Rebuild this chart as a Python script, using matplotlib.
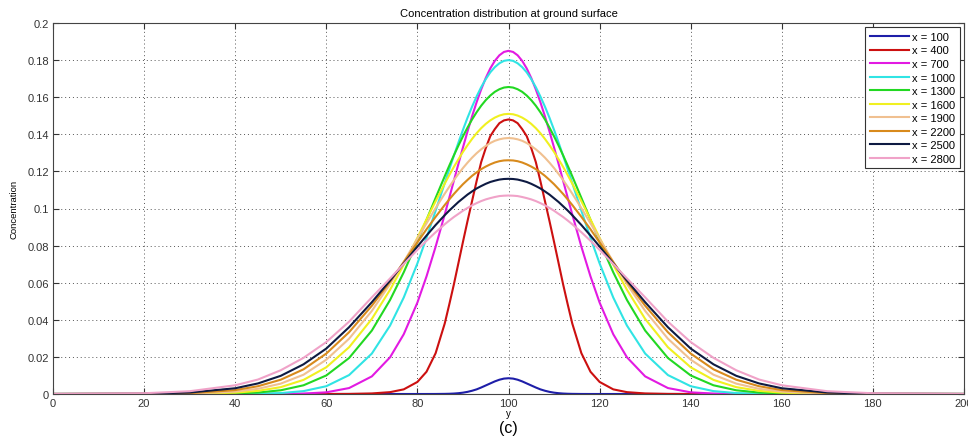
import numpy as np
import matplotlib
matplotlib.use('Agg')
import matplotlib.pyplot as plt

plt.rcParams['font.family'] = ['Liberation Sans', 'DejaVu Sans']

# crosswind distance from plume centreline (curves are symmetric about y = 100)
center = 100
offsets = [0, 1, 2, 3, 4, 5, 6, 7, 8, 9, 10, 11, 12, 13, 14,
           16, 18, 20, 23, 26, 30, 35, 40, 45, 50, 55, 60, 70, 80, 100]

distances = [100, 400, 700, 1000, 1300, 1600, 1900, 2200, 2500, 2800]

# ground level concentration at each offset, one list per downwind distance
c100 = [0.0085, 0.0083, 0.0077, 0.0068, 0.0057, 0.0046, 0.0035, 0.0025, 0.00175, 0.00115,
        0.00072, 0.00043, 0.00024, 0.00013, 0.00007,
        0.000015, 0, 0, 0, 0, 0, 0, 0, 0, 0, 0, 0, 0, 0, 0]
c400 = [0.148, 0.1475, 0.146, 0.1428, 0.139, 0.1325, 0.125, 0.1148, 0.104, 0.0932,
        0.082, 0.0705, 0.059, 0.0483, 0.038,
        0.022, 0.012, 0.0065, 0.0025, 0.001, 0.0003, 0.00005, 0, 0, 0, 0, 0, 0, 0, 0]
c700 = [0.185, 0.1844, 0.1826, 0.1796, 0.1755, 0.1703, 0.1642, 0.1573, 0.1497, 0.1415,
        0.1329, 0.1240, 0.1149, 0.1058, 0.0968,
        0.0794, 0.0634, 0.0493, 0.0322, 0.0198, 0.0095, 0.0032, 0.0009, 0.00023, 0.00005, 0, 0, 0, 0, 0]
c1000 = [0.180, 0.1796, 0.1783, 0.1762, 0.1734, 0.1697, 0.1654, 0.1604, 0.1549, 0.1489,
         0.1424, 0.1355, 0.1284, 0.1211, 0.1137,
         0.0988, 0.0842, 0.0704, 0.0520, 0.0369, 0.0218, 0.0102, 0.0042, 0.00156, 0.0005, 0.00015, 0.00004, 0, 0, 0]
c1300 = [0.1655, 0.1652, 0.1643, 0.1629, 0.1609, 0.1584, 0.1554, 0.1519, 0.1480, 0.1436,
         0.1389, 0.1339, 0.1286, 0.1231, 0.1174,
         0.1057, 0.0939, 0.0822, 0.0656, 0.0507, 0.0342, 0.0194, 0.0100, 0.0047, 0.0020, 0.0008, 0.0003, 0.00003, 0, 0]
c1600 = [0.151, 0.1508, 0.1501, 0.1490, 0.1475, 0.1456, 0.1433, 0.1406, 0.1375, 0.1341,
         0.1305, 0.1265, 0.1224, 0.1180, 0.1134,
         0.1039, 0.0941, 0.0842, 0.0697, 0.0562, 0.0405, 0.0252, 0.0144, 0.0076, 0.0037, 0.0017, 0.0007, 0.0001, 0.00001, 0]
c1900 = [0.138, 0.1378, 0.1373, 0.1365, 0.1353, 0.1337, 0.1319, 0.1298, 0.1274, 0.1247,
         0.1218, 0.1186, 0.1153, 0.1117, 0.1080,
         0.1002, 0.0920, 0.0837, 0.0712, 0.0593, 0.0448, 0.0298, 0.0185, 0.0104, 0.0056, 0.0028, 0.0013, 0.00024, 0.00003, 0]
c2200 = [0.126, 0.1259, 0.1255, 0.1248, 0.1238, 0.1226, 0.1212, 0.1195, 0.1176, 0.1154,
         0.1131, 0.1105, 0.1078, 0.1049, 0.1019,
         0.0955, 0.0888, 0.0817, 0.0711, 0.0606, 0.0476, 0.0333, 0.0218, 0.0133, 0.0077, 0.0042, 0.0021, 0.00045, 0.00008, 0]
c2500 = [0.116, 0.1159, 0.1156, 0.1150, 0.1143, 0.1133, 0.1121, 0.1108, 0.1092, 0.1075,
         0.1055, 0.1035, 0.1012, 0.0989, 0.0964,
         0.0911, 0.0854, 0.0795, 0.0704, 0.0612, 0.0495, 0.0360, 0.0245, 0.0160, 0.0098, 0.0057, 0.0031, 0.0008, 0.00017, 0.00001]
c2800 = [0.107, 0.1069, 0.1067, 0.1062, 0.1056, 0.1049, 0.1040, 0.1029, 0.1017, 0.1003,
         0.0988, 0.0971, 0.0954, 0.0935, 0.0915,
         0.0872, 0.0826, 0.0777, 0.0701, 0.0623, 0.0521, 0.0390, 0.0280, 0.0195, 0.0128, 0.0078, 0.0047, 0.0015, 0.0004, 0.00002]

profiles = [c100, c400, c700, c1000, c1300, c1600, c1900, c2200, c2500, c2800]
colors = ['#1e1ea8', '#cc1010', '#e21ae2', '#30e4e4', '#22d822',
          '#f0f020', '#f0c090', '#d88a1c', '#0e1a42', '#f0a2c8']

fig = plt.figure(figsize=(9.68, 4.39), dpi=100)
ax = fig.add_axes([53 / 968, 1 - 395 / 439, (964 - 53) / 968, (395 - 24) / 439])

off = np.array(offsets, dtype=float)
for dist, prof, col in zip(distances, profiles, colors):
    p = np.array(prof)
    yy = np.concatenate([center - off[::-1], center + off[1:]])
    cc = np.concatenate([p[::-1], p[1:]])
    ax.plot(yy, cc, color=col, lw=1.5, label='x = %d' % dist,
            solid_joinstyle='round')

ax.set_xlim(0, 200)
ax.set_ylim(0, 0.2)
ax.set_xticks(np.arange(0, 201, 20))
ax.set_yticks(np.arange(0, 0.201, 0.02))
ax.set_yticklabels(['0', '0.02', '0.04', '0.06', '0.08', '0.1', '0.12', '0.14', '0.16', '0.18', '0.2'])
ax.tick_params(direction='in', top=True, right=True, length=4, width=0.8,
               labelsize=8, colors='#333333', pad=3)
ax.grid(True, linestyle=(0, (1, 3)), color='#555555', lw=0.7)
for s in ax.spines.values():
    s.set_color('#444444')
    s.set_linewidth(0.8)

ax.set_title('Concentration distribution at ground surface', fontsize=8, pad=5)
ax.set_ylabel('Concentration', fontsize=6.8, labelpad=6)
ax.set_xlabel('y', fontsize=7, labelpad=0)
fig.text(508 / 968, 1 - 429 / 439, '(c)', fontsize=11.5, ha='center', va='center')

leg = ax.legend(loc='upper right', fontsize=8, labelspacing=0.32, handlelength=3.5,
                handletextpad=0.3, borderaxespad=0.4, borderpad=0.4,
                fancybox=False, framealpha=1, edgecolor='#333333')
leg.get_frame().set_linewidth(0.8)

fig.savefig('out.png', dpi=100)
